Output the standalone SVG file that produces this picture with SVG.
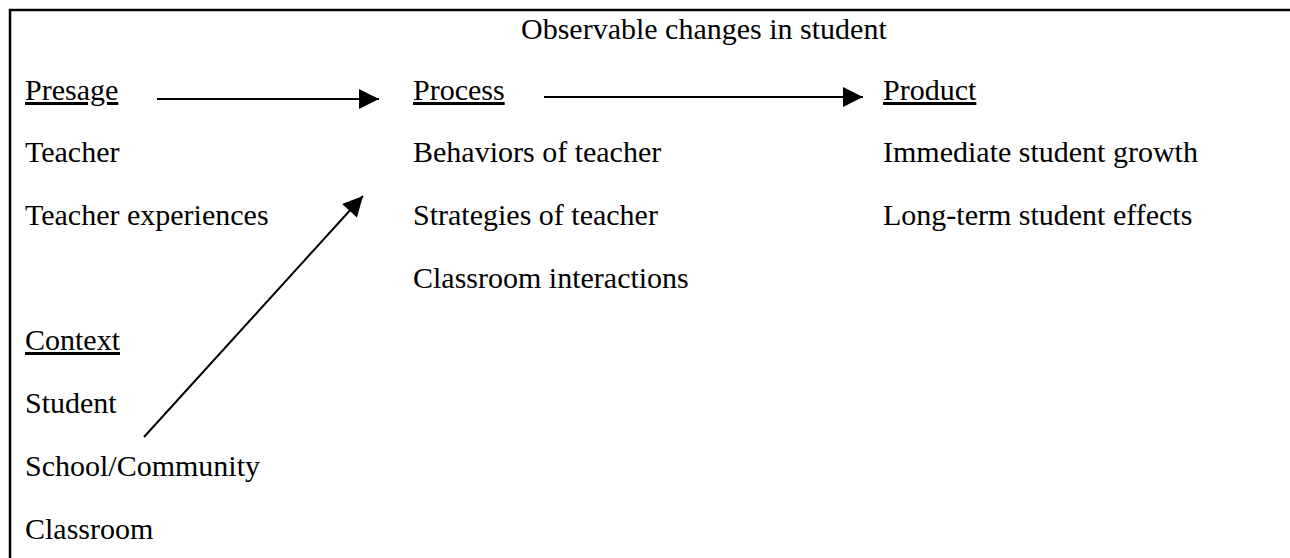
<svg xmlns="http://www.w3.org/2000/svg" width="1290" height="558" viewBox="0 0 1290 558">
<style>
  text { font-family: "Liberation Serif", "Times New Roman", serif; font-size: 30px; fill: #000; }
  .h { text-decoration: underline; }
  .frame { stroke: #000; stroke-width: 2.5; fill: none; }
  .conn { stroke: #000; stroke-width: 2; fill: none; }
</style>
<defs>
  <marker id="ah" viewBox="0 0 10 10" refX="10" refY="5" markerUnits="userSpaceOnUse" markerWidth="21" markerHeight="20" orient="auto">
    <path d="M0,0 L10,5 L0,10 Z" fill="#000"/>
  </marker>
</defs>
<rect width="1290" height="558" fill="#fff"/>
<g id="frame">
  <path class="frame" d="M10,558 L10,10 L1290,10"/>
</g>
<g id="title"><text x="521" y="39">Observable changes in student</text></g>
<g id="presage">
  <text class="h" x="25" y="100">Presage</text>
  <text x="25" y="162">Teacher</text>
  <text x="25" y="225">Teacher experiences</text>
</g>
<g id="context">
  <text class="h" x="25" y="350">Context</text>
  <text x="25" y="413">Student</text>
  <text x="25" y="476">School/Community</text>
  <text x="25" y="539">Classroom</text>
</g>
<g id="process">
  <text class="h" x="413" y="100">Process</text>
  <text x="413" y="162">Behaviors of teacher</text>
  <text x="413" y="225">Strategies of teacher</text>
  <text x="413" y="288">Classroom interactions</text>
</g>
<g id="product">
  <text class="h" x="883" y="100">Product</text>
  <text x="883" y="162">Immediate student growth</text>
  <text x="883" y="225">Long-term student effects</text>
</g>
<g id="connectors">
  <line class="conn" x1="157" y1="99" x2="379" y2="99" marker-end="url(#ah)"/>
  <line class="conn" x1="544" y1="97" x2="863" y2="97" marker-end="url(#ah)"/>
  <line class="conn" x1="144" y1="437" x2="363" y2="196" marker-end="url(#ah)"/>
</g>
</svg>
